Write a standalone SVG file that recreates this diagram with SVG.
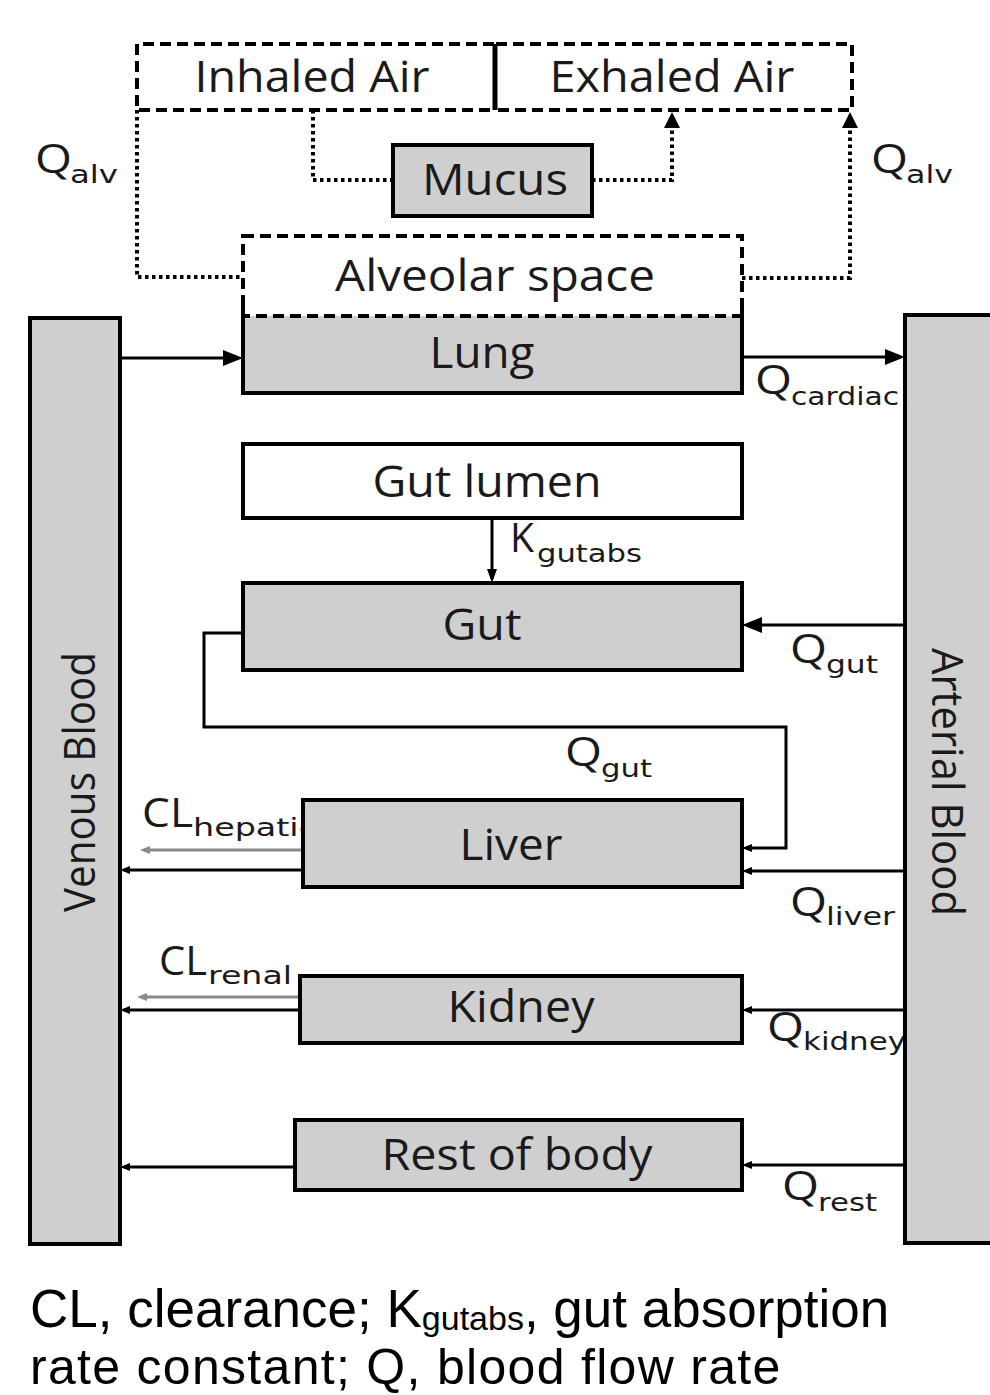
<svg xmlns="http://www.w3.org/2000/svg" width="990" height="1395" viewBox="0 0 990 1395">
<style>
.box{stroke:#000;stroke-width:4}
.g{fill:#cfcfcf}
.w{fill:#fff}
.dash{fill:none;stroke:#000;stroke-width:4;stroke-dasharray:11 6}
.lbl{font-family:"Open Sans","DejaVu Sans",sans-serif;font-size:44px;fill:#1a1a1a;text-anchor:middle}
.q{font-family:"Open Sans","DejaVu Sans",sans-serif;font-size:40px;fill:#1a1a1a}
.sub{font-family:"DejaVu Sans","Open Sans",sans-serif;font-size:24px;fill:#1a1a1a}
.cap{font-family:"Liberation Sans",Arial,sans-serif;font-size:53px;fill:#000}
.cap2{font-family:"Liberation Sans",Arial,sans-serif;font-size:50px;letter-spacing:1.3px;fill:#000}
.ln{fill:none;stroke:#000;stroke-width:3}
.gl{fill:none;stroke:#8a8a8a;stroke-width:3}
.dot{fill:none;stroke:#000;stroke-width:4;stroke-dasharray:3.5 3.5}
</style>
<defs>
<marker id="big" markerUnits="userSpaceOnUse" viewBox="0 0 20 16" refX="14" refY="8" markerWidth="20" markerHeight="16" orient="auto"><path d="M0,0 L20,8 L0,16 z" fill="#000"/></marker>
<marker id="med" markerUnits="userSpaceOnUse" viewBox="0 0 14 10" refX="10" refY="5" markerWidth="14" markerHeight="10" orient="auto"><path d="M0,0 L14,5 L0,10 z" fill="#000"/></marker>
<marker id="sm" markerUnits="userSpaceOnUse" viewBox="0 0 10 8" refX="6" refY="4" markerWidth="10" markerHeight="8" orient="auto"><path d="M0,0 L10,4 L0,8 z" fill="#000"/></marker>
<marker id="smg" markerUnits="userSpaceOnUse" viewBox="0 0 10 8" refX="6" refY="4" markerWidth="10" markerHeight="8" orient="auto"><path d="M0,0 L10,4 L0,8 z" fill="#8a8a8a"/></marker>
<marker id="up" markerUnits="userSpaceOnUse" viewBox="0 0 16 16" refX="10" refY="8" markerWidth="16" markerHeight="16" orient="auto"><path d="M0,0 L16,8 L0,16 z" fill="#000"/></marker>
</defs>
<rect width="990" height="1395" fill="#fff"/>

<g id="connectors">
<path class="dot" d="M137,110 V277 H243"/>
<path class="dot" d="M313,110 V180 H393"/>
<path class="dot" d="M592,180 H672 V118" marker-end="url(#up)"/>
<path class="dot" d="M742,278 H850 V118" marker-end="url(#up)"/>
<path class="ln" d="M120,358 H237" marker-end="url(#big)"/>
<path class="ln" d="M742,357 H899" marker-end="url(#big)"/>
<path class="ln" d="M905,625 H748" marker-end="url(#big)"/>
<path class="ln" d="M492,518 V579" marker-end="url(#med)"/>
<path class="ln" d="M243,633 H204 V727 H786 V848 H746" marker-end="url(#sm)"/>
<path class="ln" d="M905,871 H746" marker-end="url(#sm)"/>
<path class="ln" d="M303,870 H124" marker-end="url(#sm)"/>
<path class="gl" d="M303,850 H144" marker-end="url(#smg)"/>
<path class="ln" d="M300,1010 H124" marker-end="url(#sm)"/>
<path class="gl" d="M300,997 H141" marker-end="url(#smg)"/>
<path class="ln" d="M905,1010 H746" marker-end="url(#sm)"/>
<path class="ln" d="M295,1167 H124" marker-end="url(#sm)"/>
<path class="ln" d="M905,1165 H746" marker-end="url(#sm)"/>
<text class="q" x="35" y="173" textLength="37" lengthAdjust="spacingAndGlyphs">Q</text><text class="sub" x="70" y="183" textLength="48" lengthAdjust="spacingAndGlyphs">alv</text>
<text class="q" x="871" y="173" textLength="37" lengthAdjust="spacingAndGlyphs">Q</text><text class="sub" x="906" y="183" textLength="47" lengthAdjust="spacingAndGlyphs">alv</text>
<text class="q" x="755" y="394" textLength="37" lengthAdjust="spacingAndGlyphs">Q</text><text class="sub" x="791" y="405" textLength="108" lengthAdjust="spacingAndGlyphs">cardiac</text>
<text class="q" x="510" y="552" textLength="24" lengthAdjust="spacingAndGlyphs">K</text><text class="sub" x="537" y="562" textLength="105" lengthAdjust="spacingAndGlyphs">gutabs</text>
<text class="q" x="790" y="663" textLength="37" lengthAdjust="spacingAndGlyphs">Q</text><text class="sub" x="826" y="673" textLength="52" lengthAdjust="spacingAndGlyphs">gut</text>
<text class="q" x="565" y="766" textLength="37" lengthAdjust="spacingAndGlyphs">Q</text><text class="sub" x="601" y="777" textLength="51" lengthAdjust="spacingAndGlyphs">gut</text>
<text class="q" x="790" y="916" textLength="37" lengthAdjust="spacingAndGlyphs">Q</text><text class="sub" x="826" y="925" textLength="69" lengthAdjust="spacingAndGlyphs">liver</text>
<text class="q" x="767" y="1041" textLength="37" lengthAdjust="spacingAndGlyphs">Q</text><text class="sub" x="803" y="1050" textLength="103" lengthAdjust="spacingAndGlyphs">kidney</text>
<text class="q" x="782" y="1200" textLength="37" lengthAdjust="spacingAndGlyphs">Q</text><text class="sub" x="818" y="1211" textLength="59" lengthAdjust="spacingAndGlyphs">rest</text>
<text class="q" x="142" y="827" textLength="51" lengthAdjust="spacingAndGlyphs">CL</text><text class="sub" x="193" y="836" textLength="124" lengthAdjust="spacingAndGlyphs">hepatic</text>
<text class="q" x="159" y="975" textLength="48" lengthAdjust="spacingAndGlyphs">CL</text><text class="sub" x="208" y="984" textLength="84" lengthAdjust="spacingAndGlyphs">renal</text>
</g>

<g id="inhaled-air">
<path class="dash" d="M494,44 H137 V110 H494"/>
<text class="lbl" x="312" y="92" textLength="235" lengthAdjust="spacingAndGlyphs">Inhaled Air</text>
</g>
<g id="exhaled-air">
<path class="dash" d="M496,44 H852 V110 H496"/>
<line x1="495" y1="44" x2="495" y2="110" stroke="#000" stroke-width="5"/>
<text class="lbl" x="672" y="92" textLength="245" lengthAdjust="spacingAndGlyphs">Exhaled Air</text>
</g>
<g id="mucus">
<rect class="box g" x="393" y="145" width="199" height="71"/>
<text class="lbl" x="495" y="195" textLength="146" lengthAdjust="spacingAndGlyphs">Mucus</text>
</g>
<g id="lung">
<rect class="g" x="243" y="316" width="499" height="77"/>
<path d="M243,302 V393 H742 V302" fill="none" stroke="#000" stroke-width="4"/>
<text class="lbl" x="482" y="368" textLength="105" lengthAdjust="spacingAndGlyphs">Lung</text>
</g>
<g id="alveolar-space">
<rect x="243" y="236" width="499" height="80" fill="#f1f1f1" class="dash"/>
<text class="lbl" x="495" y="291" textLength="320" lengthAdjust="spacingAndGlyphs">Alveolar space</text>
</g>
<g id="gut-lumen">
<rect class="box w" x="243" y="444" width="499" height="74"/>
<text class="lbl" x="487" y="497" textLength="229" lengthAdjust="spacingAndGlyphs">Gut lumen</text>
</g>
<g id="gut">
<rect class="box g" x="243" y="583" width="499" height="87"/>
<text class="lbl" x="482" y="640" textLength="79" lengthAdjust="spacingAndGlyphs">Gut</text>
</g>
<g id="liver">
<rect class="box g" x="303" y="800" width="439" height="87"/>
<text class="lbl" x="511" y="860" textLength="103" lengthAdjust="spacingAndGlyphs">Liver</text>
</g>
<g id="kidney">
<rect class="box g" x="300" y="976" width="442" height="67"/>
<text class="lbl" x="521" y="1022" textLength="147" lengthAdjust="spacingAndGlyphs">Kidney</text>
</g>
<g id="rest-of-body">
<rect class="box g" x="295" y="1120" width="447" height="70"/>
<text class="lbl" x="517" y="1170" textLength="271" lengthAdjust="spacingAndGlyphs">Rest of body</text>
</g>
<g id="venous-blood">
<rect class="box g" x="30" y="318" width="90" height="926"/>
<text class="lbl" transform="translate(95,782) rotate(-90)" x="0" y="0" textLength="260" lengthAdjust="spacingAndGlyphs">Venous Blood</text>
</g>
<g id="arterial-blood">
<rect class="box g" x="905" y="315" width="92" height="928"/>
<text class="lbl" transform="translate(932,782) rotate(90)" x="0" y="0" textLength="268" lengthAdjust="spacingAndGlyphs">Arterial Blood</text>
</g>

<g id="caption">
<text class="cap" x="30" y="1327">CL, clearance; K<tspan font-size="34" dy="3">gutabs</tspan><tspan dy="-3">, gut absorption</tspan></text>
<text class="cap2" x="30" y="1384">rate constant; Q, blood flow rate</text>
</g>
</svg>
